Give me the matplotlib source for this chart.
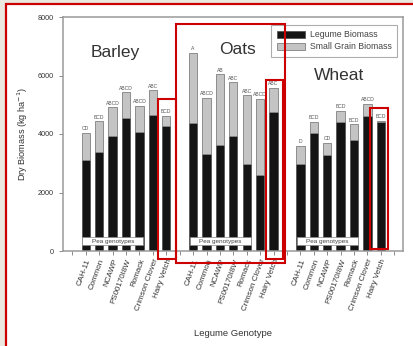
import numpy as np
import matplotlib.pyplot as plt
from matplotlib.patches import Rectangle

plt.rcParams['font.family'] = ['Liberation Sans', 'DejaVu Sans']

# --- Data ---
genotypes = ["CAH-11", "Common", "NCAWP", "PS00170I8W", "Romack", "Crimson Clover", "Hairy Vetch"]
crops = ["Barley", "Oats", "Wheat"]

barley_legume = [3110, 3400, 3940, 4560, 4060, 4650, 4270]
barley_grain = [940, 1040, 970, 870, 900, 850, 350]
oats_legume = [4370, 3320, 3620, 3920, 2960, 2610, 4740]
oats_grain = [2410, 1920, 2430, 1850, 2360, 2590, 840]
wheat_legume = [2970, 4050, 3280, 4400, 3800, 4630, 4420]
wheat_grain = [630, 370, 420, 400, 530, 410, 40]

barley_letters = ["CD", "BCD", "ABCD", "ABCD", "ABCD", "ABC", "BCD"]
oats_letters = ["A", "ABCD", "AB", "ABC", "ABC", "ABCD", "ABC"]
wheat_letters = ["D", "BCD", "CD", "BCD", "BCD", "ABCD", "BCD"]

legume = [barley_legume, oats_legume, wheat_legume]
grain = [barley_grain, oats_grain, wheat_grain]
letters = [barley_letters, oats_letters, wheat_letters]

W, H = 413, 346
fig = plt.figure(figsize=(W / 100, H / 100), dpi=100)


def fx(px):
    return px / W


def fy(py):
    return 1 - py / H


# screenshot background strips
fig.patches.append(Rectangle((0, 0), fx(5), 1, transform=fig.transFigure,
                             facecolor='#ebe8df', edgecolor='none', zorder=0))
fig.patches.append(Rectangle((0, fy(3)), 1, 1, transform=fig.transFigure,
                             facecolor='#ebe8df', edgecolor='none', zorder=0))

ax = fig.add_axes([fx(63), fy(251), fx(403) - fx(63), fy(17) - fy(251)])

text_col = '#333333'
frame_col = '#9a9a9a'
bar_w = 0.62

xpos_all = []
for g in range(3):
    xpos = np.arange(7) + g * 8
    xpos_all.extend(xpos)
    leg = np.array(legume[g])
    gr = np.array(grain[g])
    ax.bar(xpos, leg, width=bar_w, color='#141414', edgecolor='#555555', linewidth=0.6,
           label='Legume Biomass' if g == 0 else None, zorder=2)
    ax.bar(xpos, gr, bottom=leg, width=bar_w, color='#c4c4c4', edgecolor='#808080', linewidth=0.6,
           label='Small Grain Biomass' if g == 0 else None, zorder=2)
    for x, t, lab in zip(xpos, leg + gr, letters[g]):
        ax.text(x, t + 50, lab, ha='center', va='bottom', fontsize=3.6, color='#555555')
    # pea genotype box
    x0 = g * 8 - 0.25
    ax.add_patch(Rectangle((x0, 200), 4.55, 280, facecolor='white', edgecolor='#888888',
                           linewidth=0.5, zorder=3))
    ax.text(x0 + 2.27, 340, "Pea genotypes", ha='center', va='center', fontsize=4.6,
            color='#444444', zorder=4)

ax.set_xlim(-1.7, 23.65)
ax.set_ylim(0, 8000)
ax.set_xticks(np.arange(-1, 24), minor=True)
ax.set_xticks(xpos_all)
ax.set_xticklabels(genotypes * 3, rotation=70, ha='right', rotation_mode='anchor',
                   fontsize=5.8, color=text_col)
ax.set_yticks([0, 2000, 4000, 6000, 8000])
ax.set_yticklabels(['0', '2000', '4000', '6000', '8000'], fontsize=5.2, color=text_col)
ax.tick_params(axis='both', which='both', direction='out', length=3, width=0.6, color='#777777')
ax.tick_params(axis='x', which='major', pad=2)
for s in ax.spines.values():
    s.set_color(frame_col)
    s.set_linewidth(1.1)

ax.set_ylabel("Dry Biomass (kg ha$^{-1}$)", fontsize=6.6, color=text_col, labelpad=6)
fig.text(fx(233), fy(333), "Legume Genotype", ha='center', va='center', fontsize=6.8, color=text_col)

# crop labels
fig.text(fx(115), fy(52), "Barley", ha='center', va='center', fontsize=12.5, color='#333333')
fig.text(fx(238), fy(50), "Oats", ha='center', va='center', fontsize=12.5, color='#333333')
fig.text(fx(339), fy(75), "Wheat", ha='center', va='center', fontsize=12.5, color='#333333')

leg = fig.legend(loc='upper right', bbox_to_anchor=(fx(397), fy(25)),
                 fontsize=6.3, frameon=True, fancybox=False, borderpad=0.6, handlelength=3.2,
                 handleheight=0.8, labelspacing=0.35, handletextpad=0.6, borderaxespad=0)
leg.get_frame().set_edgecolor('#999999')
leg.get_frame().set_linewidth(0.8)
for t in leg.get_texts():
    t.set_color('#444444')

# red annotation boxes (screenshot markup)
red = '#cc0000'


def red_box(x0, y0, x1, y1, lw=1.5):
    fig.patches.append(Rectangle((fx(x0), fy(y1)), fx(x1) - fx(x0), fy(y0) - fy(y1),
                                 transform=fig.transFigure, fill=False, edgecolor=red,
                                 linewidth=lw, zorder=10))


red_box(6, 4, 420, 360, lw=1.6)
red_box(158, 99, 176, 259)
red_box(176, 24, 285, 263)
red_box(266, 80, 283, 259)
red_box(370, 108, 388, 249)

fig.savefig('out.png', dpi=100)
